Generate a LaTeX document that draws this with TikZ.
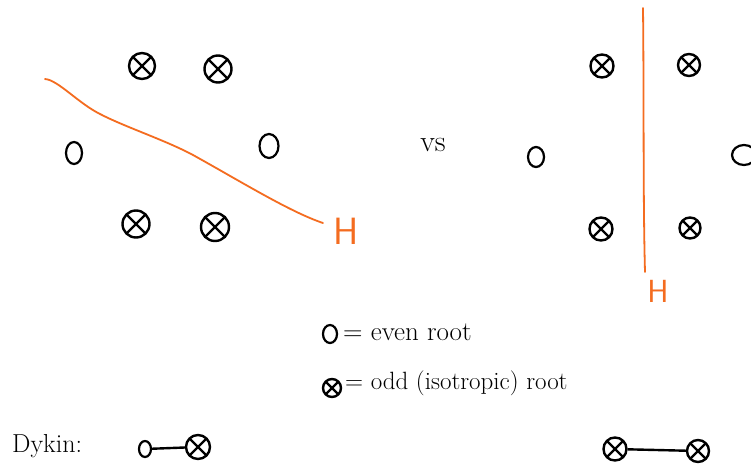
\documentclass[tikz,border=0pt]{standalone}
\usetikzlibrary{shapes.geometric}
\definecolor{hor}{RGB}{244,108,32}
\begin{document}
\begin{tikzpicture}[x=1pt,y=-1pt,
  oddroot/.style={circle, draw, line width=2.4pt, inner sep=0pt, minimum size=#1,
    path picture={\draw[line width=2.2pt] (path picture bounding box.north west) -- (path picture bounding box.south east)
      (path picture bounding box.north east) -- (path picture bounding box.south west);}},
  evenroot/.style 2 args={ellipse, draw, line width=2.2pt, inner sep=0pt, minimum width=#1, minimum height=#2},
  hand/.style={font=\fontsize{#1}{#1}\selectfont, inner sep=0pt},
  horiz/.style={draw=hor, line width=1.8pt},
  hlab/.style={text=hor, font=\fontsize{#1}{#1}\selectfont\sffamily, inner sep=0pt}]
\useasboundingbox (0,0) rectangle (751,463);
\clip (0,0) rectangle (751,463);
\fill[white] (0,0) rectangle (751,463);
% left configuration
\node[oddroot=26] (a1) at (142,66) {};
\node[oddroot=27] (a2) at (218,69) {};
\node[oddroot=27] (a3) at (136,224) {};
\node[oddroot=28] (a4) at (215,227) {};
\node[evenroot={16}{22}] (a5) at (74,153) {};
\node[evenroot={19}{24}] (a6) at (269,146) {};
\draw[horiz, line cap=round] (45,79) .. controls (58,80) and (78,103) .. (100,114)
  .. controls (125,127) and (165,140) .. (193,155)
  .. controls (240,181) and (290,212) .. (323,223);
\node[hlab=38, anchor=center] (h1) at (346,231) {H};
% vs
\node[hand=30] (vs) at (433,145) {vs};
% right configuration
\node[evenroot={16}{20}] (b5) at (536,157) {};
\node[oddroot=23] (b1) at (602,66) {};
\node[oddroot=22] (b2) at (689,65) {};
\node[oddroot=23] (b3) at (601,229) {};
\node[oddroot=21] (b4) at (690,228) {};
\node[evenroot={24}{20}] (b6) at (744,155) {};
\draw[horiz, line cap=round] (643,8) .. controls (644,100) and (643,200) .. (645,272);
\node[hlab=32, anchor=center] (h2) at (658,291) {H};
% legend
\node[evenroot={14}{18}] (l1) at (330,334) {};
\node[hand=27, anchor=west] (t1) at (343,332) {= even root};
\node[oddroot=18] (l2) at (332,388) {};
\node[hand=25, anchor=west] (t2) at (345,383) {= odd (isotropic) root};
% Dynkin
\node[hand=26, anchor=base west] (dy) at (12,452) {Dykin:};
\node[evenroot={12}{16}] (d1) at (145,449) {};
\node[oddroot=24] (d2) at (198,447) {};
\draw[line width=2.4pt] (d1) -- (d2);
\node[oddroot=23] (d3) at (615,449) {};
\node[oddroot=22] (d4) at (698,451) {};
\draw[line width=2.4pt] (d3) -- (d4);
\end{tikzpicture}
\end{document}
